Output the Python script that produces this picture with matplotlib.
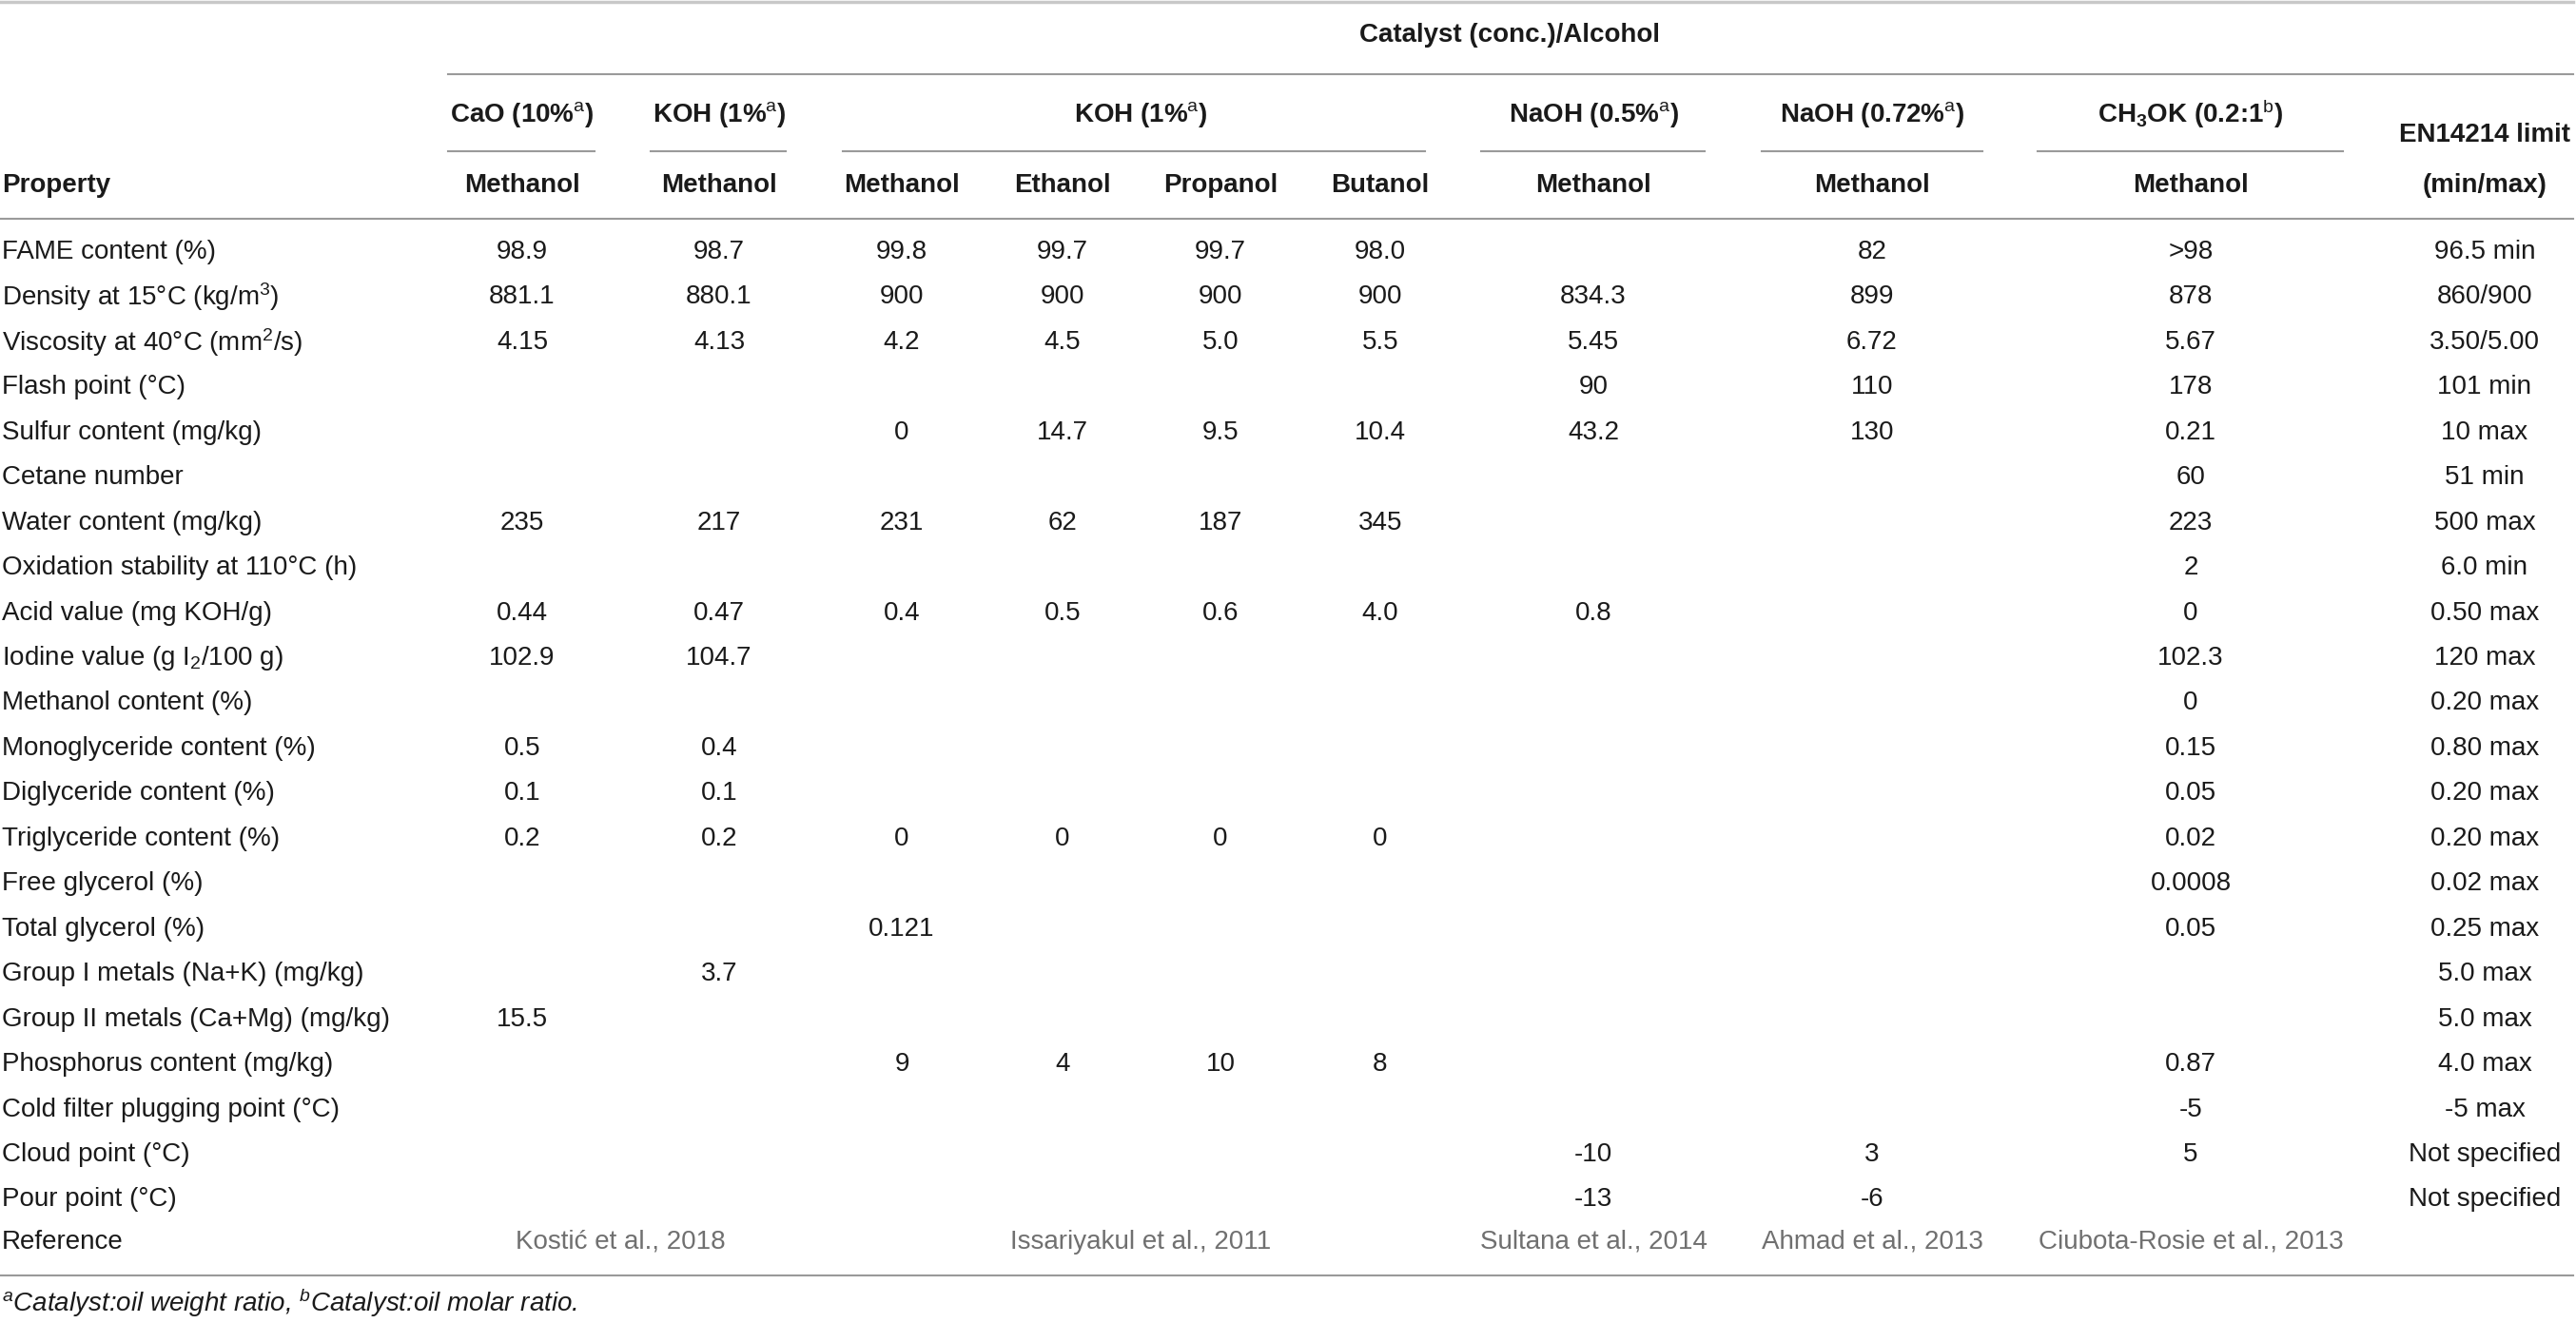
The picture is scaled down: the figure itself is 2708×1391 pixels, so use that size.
import matplotlib
matplotlib.use("Agg")
import matplotlib.pyplot as plt

plt.rcParams['font.family'] = ['Liberation Sans', 'DejaVu Sans']
plt.rcParams['mathtext.fontset'] = 'custom'
plt.rcParams['mathtext.rm'] = 'Liberation Sans'
plt.rcParams['mathtext.it'] = 'Liberation Sans:italic'
plt.rcParams['mathtext.bf'] = 'Liberation Sans:bold'

# table content
properties = [
    "FAME content (%)", "Density at 15°C (kg/m$^{3}$)", "Viscosity at 40°C (mm$^{2}$/s)",
    "Flash point (°C)", "Sulfur content (mg/kg)", "Cetane number", "Water content (mg/kg)",
    "Oxidation stability at 110°C (h)", "Acid value (mg KOH/g)", "Iodine value (g I$_{2}$/100 g)",
    "Methanol content (%)", "Monoglyceride content (%)", "Diglyceride content (%)",
    "Triglyceride content (%)", "Free glycerol (%)", "Total glycerol (%)",
    "Group I metals (Na+K) (mg/kg)", "Group II metals (Ca+Mg) (mg/kg)",
    "Phosphorus content (mg/kg)", "Cold filter plugging point (°C)", "Cloud point (°C)",
    "Pour point (°C)",
]
cao_meoh = ["98.9", "881.1", "4.15", "", "", "", "235", "", "0.44", "102.9", "", "0.5",
            "0.1", "0.2", "", "", "", "15.5", "", "", "", ""]
koh_meoh_a = ["98.7", "880.1", "4.13", "", "", "", "217", "", "0.47", "104.7", "", "0.4",
              "0.1", "0.2", "", "", "3.7", "", "", "", "", ""]
koh_meoh_b = ["99.8", "900", "4.2", "", "0", "", "231", "", "0.4", "", "", "", "", "0",
              "", "0.121", "", "", "9", "", "", ""]
koh_etoh = ["99.7", "900", "4.5", "", "14.7", "", "62", "", "0.5", "", "", "", "", "0",
            "", "", "", "", "4", "", "", ""]
koh_proh = ["99.7", "900", "5.0", "", "9.5", "", "187", "", "0.6", "", "", "", "", "0",
            "", "", "", "", "10", "", "", ""]
koh_buoh = ["98.0", "900", "5.5", "", "10.4", "", "345", "", "4.0", "", "", "", "", "0",
            "", "", "", "", "8", "", "", ""]
naoh_05 = ["", "834.3", "5.45", "90", "43.2", "", "", "", "0.8", "", "", "", "", "",
           "", "", "", "", "", "", "-10", "-13"]
naoh_072 = ["82", "899", "6.72", "110", "130", "", "", "", "", "", "", "", "", "",
            "", "", "", "", "", "", "3", "-6"]
ch3ok = [">98", "878", "5.67", "178", "0.21", "60", "223", "2", "0", "102.3", "0", "0.15",
         "0.05", "0.02", "0.0008", "0.05", "", "", "0.87", "-5", "5", ""]
en14214 = ["96.5 min", "860/900", "3.50/5.00", "101 min", "10 max", "51 min", "500 max",
           "6.0 min", "0.50 max", "120 max", "0.20 max", "0.80 max", "0.20 max", "0.20 max",
           "0.02 max", "0.25 max", "5.0 max", "5.0 max", "4.0 max", "-5 max",
           "Not specified", "Not specified"]
columns = [cao_meoh, koh_meoh_a, koh_meoh_b, koh_etoh, koh_proh, koh_buoh,
           naoh_05, naoh_072, ch3ok, en14214]
alcohols = ["Methanol", "Methanol", "Methanol", "Ethanol", "Propanol", "Butanol",
            "Methanol", "Methanol", "Methanol"]
catalysts = ["CaO (10%$^{\\mathrm{a}}$)", "KOH (1%$^{\\mathrm{a}}$)", "KOH (1%$^{\\mathrm{a}}$)",
             "NaOH (0.5%$^{\\mathrm{a}}$)", "NaOH (0.72%$^{\\mathrm{a}}$)",
             "CH$_{\\mathbf{3}}$OK (0.2:1$^{\\mathrm{b}}$)"]
references = ["Kostić et al., 2018", "Issariyakul et al., 2011", "Sultana et al., 2014",
              "Ahmad et al., 2013", "Ciubota-Rosie et al., 2013"]

# layout (pixels)
W, H = 2708, 1391
col_x = [549, 756, 948, 1117, 1283, 1451, 1675, 1968, 2303, 2612]
cat_span = [(0, 0), (1, 1), (2, 5), (6, 6), (7, 7), (8, 8)]
cat_line = [(471, 625), (684, 826), (886, 1498), (1557, 1792), (1852, 2084), (2142, 2463)]
ref_span = [(0, 1), (2, 5), (6, 6), (7, 7), (8, 8)]
row0, row_step = 265, 47.45
ref_y = 1306
fs = 20
line_col = '#9a9a9a'
txt_col = '#1a1a1a'

fig = plt.figure(figsize=(W / 100, H / 100), dpi=100)
ax = fig.add_axes([0, 0, 1, 1])
ax.set_xlim(0, W)
ax.set_ylim(H, 0)
ax.axis('off')

# rules
ax.plot([0, W - 3], [2, 2], color='#c8c8c8', lw=2.5)
ax.plot([471, W - 3], [78, 78], color=line_col, lw=1.5)
ax.plot([0, W - 3], [230, 230], color=line_col, lw=1.5)
ax.plot([0, W - 3], [1341, 1341], color=line_col, lw=1.5)
for x0, x1 in cat_line:
    ax.plot([x0, x1], [159, 159], color=line_col, lw=1.5)

# header
ax.text(1587, 37, "Catalyst (conc.)/Alcohol", fontsize=fs, fontweight='bold',
        ha='center', va='center', color=txt_col)
for (a, b), lab in zip(cat_span, catalysts):
    ax.text((col_x[a] + col_x[b]) / 2, 120, lab, fontsize=fs, fontweight='bold',
            ha='center', va='center', color=txt_col)
for x, lab in zip(col_x, alcohols):
    ax.text(x, 195, lab, fontsize=fs, fontweight='bold', ha='center', va='center', color=txt_col)
ax.text(2, 195, "Property", fontsize=fs, fontweight='bold', ha='left', va='center', color=txt_col)
ax.text(col_x[-1], 142, "EN14214 limit", fontsize=fs, fontweight='bold',
        ha='center', va='center', color=txt_col)
ax.text(col_x[-1], 195, "(min/max)", fontsize=fs, fontweight='bold',
        ha='center', va='center', color=txt_col)

# body
for i, prop in enumerate(properties):
    y = row0 + i * row_step
    ax.text(2, y, prop, fontsize=fs, ha='left', va='center', color=txt_col)
    for x, col in zip(col_x, columns):
        if col[i]:
            ax.text(x, y, col[i], fontsize=fs, ha='center', va='center', color=txt_col)

ax.text(2, ref_y, "Reference", fontsize=fs, ha='left', va='center', color=txt_col)
for (a, b), lab in zip(ref_span, references):
    ax.text((col_x[a] + col_x[b]) / 2, ref_y, lab, fontsize=fs, ha='center', va='center',
            color='#707070')

ax.text(2, 1370, "$^{\\mathit{a}}$Catalyst:oil weight ratio, $^{\\mathit{b}}$Catalyst:oil molar ratio.",
        fontsize=fs, fontstyle='italic', ha='left', va='center', color=txt_col)

fig.savefig("out.png", dpi=100)
